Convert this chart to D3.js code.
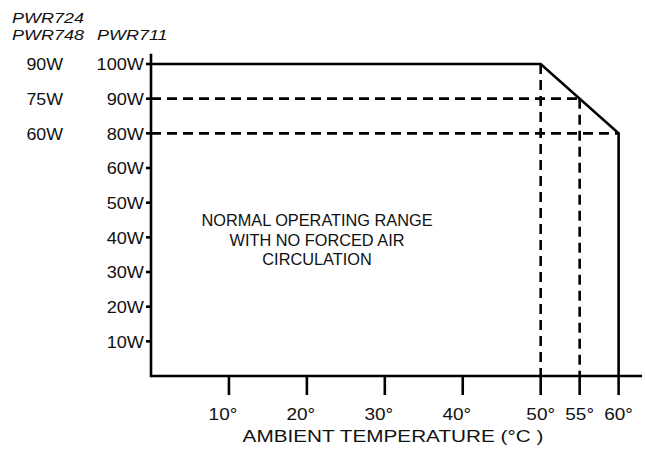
<!DOCTYPE html>
<html>
<head>
<meta charset="utf-8">
<script src="https://cdn.jsdelivr.net/npm/d3@7"></script>
<style>
  html, body { margin: 0; padding: 0; background: #fff; }
  svg { display: block; }
  text { font-family: "Liberation Sans", Arial, sans-serif; fill: #111; }
</style>
</head>
<body>
<svg id="chart" width="645" height="450"></svg>
<script>
// ---- data ----
const xTickValues = [10, 20, 30, 40, 50, 55, 60];
const xTickLabels = ["10°", "20°", "30°", "40°", "50°", "55°", "60°"];
// tick positions on the power axis and the labels printed beside them (as in the original)
const yTickValues = [100, 90, 80, 70, 60, 50, 40, 30, 20];
const yTickLabels = ["100W", "90W", "80W", "60W", "50W", "40W", "30W", "20W", "10W"];
// PWR724 / PWR748 ratings at the same three levels
const altLevels = [100, 90, 80];
const altLabels = ["90W", "75W", "60W"];
// derating curve (solid): temperature vs power
const curveTemp = [0, 50, 60, 60];
const curvePower = [100, 100, 80, 10];
// dashed guide lines
const guideH = [{ power: 90, t0: 0, t1: 55 }, { power: 80, t0: 0, t1: 60 }];
const guideV = [{ temp: 50, p0: 100, p1: 10 }, { temp: 55, p0: 90, p1: 10 }];
const rangeText = ["NORMAL OPERATING RANGE", "WITH NO FORCED AIR", "CIRCULATION"];

// ---- layout ----
const svg = d3.select("#chart");
const x = d3.scaleLinear().domain([0, 63]).range([151, 642]);
const y = d3.scaleLinear().domain([10, 100]).range([376, 64]);
const SW = 2.6;

function stretchText(g, str, px, py, opts) {
  const t = g.append("text")
    .attr("transform", `translate(${px},${py}) scale(${opts.sx || 1},1)`)
    .attr("text-anchor", opts.anchor || "start")
    .attr("dominant-baseline", opts.baseline || "auto")
    .style("font-size", (opts.size || 16) + "px")
    .text(str);
  if (opts.italic) t.style("font-style", "italic");
  return t;
}

// axes lines
svg.append("line").attr("x1", x(0)).attr("x2", x(0)).attr("y1", 55).attr("y2", y(10))
  .attr("stroke", "#000").attr("stroke-width", SW).attr("stroke-linecap", "square");
svg.append("line").attr("x1", x(0)).attr("x2", x(63)).attr("y1", y(10)).attr("y2", y(10))
  .attr("stroke", "#000").attr("stroke-width", SW);

// y ticks
svg.selectAll(".yt").data(yTickValues).enter().append("line")
  .attr("x1", x(0) - 5).attr("x2", x(0)).attr("y1", d => y(d)).attr("y2", d => y(d))
  .attr("stroke", "#000").attr("stroke-width", SW);
yTickValues.forEach((v, i) => {
  stretchText(svg, yTickLabels[i], 144, y(v) + 0.5, { anchor: "end", baseline: "central", size: 16.5, sx: 1.1 });
});
altLevels.forEach((v, i) => {
  stretchText(svg, altLabels[i], 63, y(v) + 0.5, { anchor: "end", baseline: "central", size: 16.5, sx: 1.08 });
});

// x ticks
svg.selectAll(".xt").data(xTickValues).enter().append("line")
  .attr("x1", d => x(d)).attr("x2", d => x(d)).attr("y1", y(10)).attr("y2", y(10) + 19)
  .attr("stroke", "#000").attr("stroke-width", SW);
xTickValues.forEach((v, i) => {
  const shift = v < 50 ? -6 : 0;
  stretchText(svg, xTickLabels[i], x(v) + shift, 420, { anchor: "middle", size: 16.5, sx: 1.15 });
});

// dashed guides
svg.selectAll(".gh").data(guideH).enter().append("line")
  .attr("x1", d => x(d.t0)).attr("x2", d => x(d.t1))
  .attr("y1", d => y(d.power)).attr("y2", d => y(d.power))
  .attr("stroke", "#000").attr("stroke-width", SW).attr("stroke-dasharray", "10,6");
svg.selectAll(".gv").data(guideV).enter().append("line")
  .attr("x1", d => x(d.temp)).attr("x2", d => x(d.temp))
  .attr("y1", d => y(d.p0)).attr("y2", d => y(d.p1))
  .attr("stroke", "#000").attr("stroke-width", SW).attr("stroke-dasharray", "10,6");

// solid curve
const line = d3.line().x(d => x(d[0])).y(d => y(d[1]));
svg.append("path").datum(curveTemp.map((t, i) => [t, curvePower[i]]))
  .attr("d", line).attr("fill", "none").attr("stroke", "#000")
  .attr("stroke-width", SW).attr("stroke-linejoin", "miter");

// model headers
stretchText(svg, "PWR724", 12, 23, { size: 15, sx: 1.2, italic: true });
stretchText(svg, "PWR748", 12, 40, { size: 15, sx: 1.2, italic: true });
stretchText(svg, "PWR711", 97, 40, { size: 15, sx: 1.2, italic: true });

// range text
rangeText.forEach((s, i) => {
  stretchText(svg, s, 317, 226 + i * 19.5, { anchor: "middle", size: 17, sx: 0.96 });
});

// axis title
stretchText(svg, "AMBIENT TEMPERATURE (°C )", 393, 442, { anchor: "middle", size: 17, sx: 1.22 });
</script>
</body>
</html>
